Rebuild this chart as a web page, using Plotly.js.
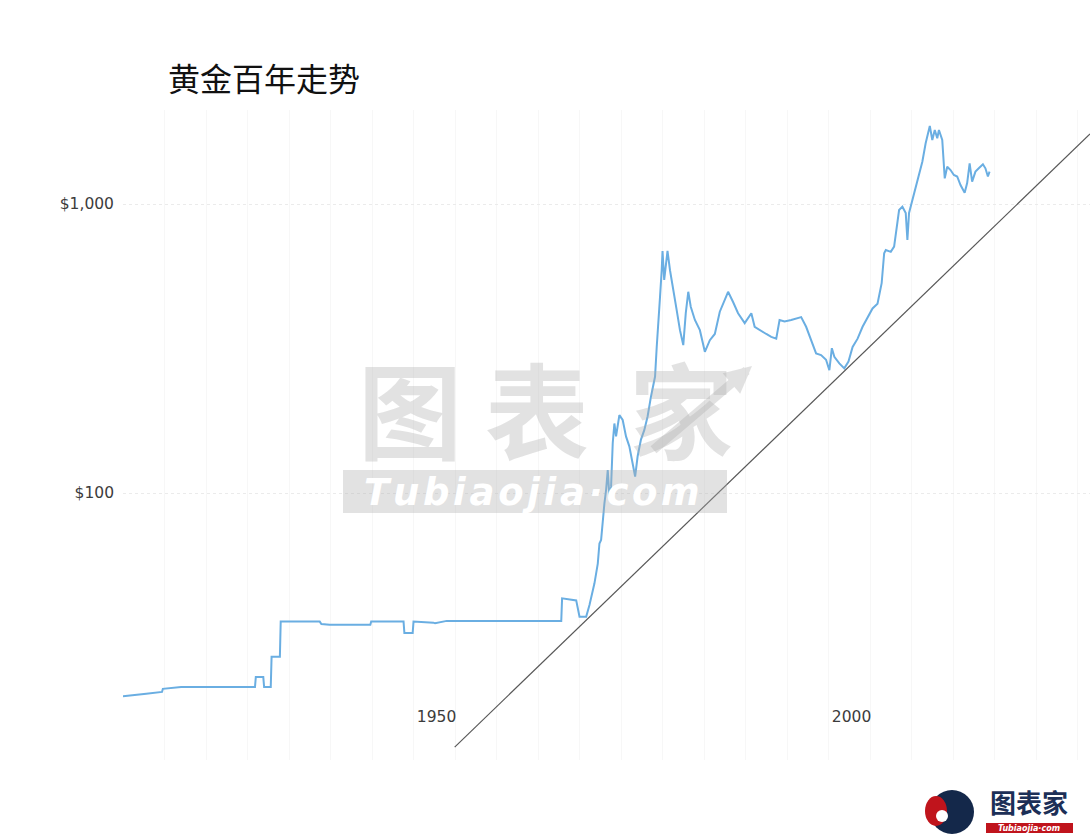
<!DOCTYPE html>
<html>
<head>
<meta charset="utf-8">
<script src="https://cdn.plot.ly/plotly-3.0.1.min.js"></script>
<style>html,body{margin:0;padding:0;background:#fff;}#chart{width:1090px;height:835px;}</style>
</head>
<body>
<div id="chart"></div>
<script>
// Gold price (USD/oz, monthly, log scale)
const years = [1915.0,1916.0,1917.8,1919.7,1919.8,1922.0,1930.9,1931.0,1931.9,1932.0,1932.8,1932.9,1933.9,1934.0,1938.7,1938.9,1939.9,1944.8,1944.9,1948.8,1948.9,1949.9,1950.0,1952.4,1952.6,1954.0,1967.8,
  1967.9,1969.6,1970.0,1970.8,1971.2,1971.8,1972.2,1972.4,1972.6,1972.8,1973.0,1973.2,1973.4,1973.6,1973.8,1974.0,1974.2,1974.4,1974.8,1975.2,1975.6,1976.0,1976.4,1976.7,1977.0,1977.4,1977.8,1978.2,1978.6,1979.1,1979.3,1979.5,1979.7,1979.9,
  1980.0,1980.2,1980.4,1980.6,1980.9,1981.3,1981.7,1982.1,1982.5,1982.8,1983.1,1983.4,1983.9,1984.5,1985.1,1985.7,1986.3,1986.9,1987.5,1987.9,1988.5,1989.1,1989.9,1990.7,1991.1,1991.7,1992.5,1993.1,1993.7,1994.1,1994.7,1995.5,1996.7,1997.3,1997.9,1998.5,1999.1,1999.7,
  2000.1,2000.4,2000.7,2001.3,2001.9,2002.4,2002.9,2003.5,2004.1,2004.7,2005.3,2005.9,2006.4,2006.7,2006.9,2007.5,2007.9,2008.5,2008.9,2009.3,2009.5,2009.7,2010.1,2010.7,2011.3,2011.7,2012.2,2012.5,2012.8,2013.1,2013.3,2013.7,2013.9,2014.0,2014.3,2014.7,2015.1,2015.5,2015.9,2016.4,2016.7,2017.0,2017.3,2017.7,2018.1,2018.6,2018.9,2019.2,2019.4];
const prices = [19.8,19.9,20.2,20.5,21.0,21.3,21.3,23.1,23.1,21.3,21.3,27.1,27.1,35.9,35.9,35.2,35.0,35.0,35.9,35.9,32.8,32.8,35.9,35.6,35.4,36.1,36.1,
  43.2,42.5,37.3,37.3,41.0,48.7,57.0,66.9,68.8,80.6,92.1,102.4,120,97,105,148.6,174,157,186,179,157,145,127,114,134,153,165,184,215,253,320,407,478,590,
  688,546,625,688,590,510,430,366,325,419,497,441,397,366,308,338,355,424,465,497,458,419,387,419,376,366,355,347,342,397,392,397,406,376,338,304,300,289,
  266,317,296,281,270,285,320,342,376,407,435,452,532,675,693,683,712,953,979,931,751,931,1032,1211,1401,1622,1862,1666,1804,1688,1804,1666,1420,1227,1346,1311,1260,1245,1163,1094,1182,1383,1195,1294,1329,1372,1329,1245,1294];

// Straight support line drawn across the chart
const trendYears = [1954.96, 2031.5];
const trendPrices = [13.2, 1747];

// Axis labels
const xTickVals = [1950, 2000];
const xTickText = ['1950', '2000'];
const yTickVals = [100, 1000];
const yTickText = ['$100', '$1,000'];

const titleText = '黄金百年走势';
const wmChars = ['图', '表', '家'];
const wmSite = 'Tubiaojia·com';
const logoText = '图表家';

// helpers: pixel -> paper
const L = 123, R = 1090, T = 110, B = 760;
const px = x => (x - L) / (R - L);
const py = y => (B - y) / (B - T);

const wmColor = 'rgba(175,175,175,0.36)';

const traces = [
  {x: years, y: prices, type: 'scatter', mode: 'lines',
   line: {color: '#6aaee2', width: 2}, hoverinfo: 'skip', showlegend: false},
  {x: trendYears, y: trendPrices, type: 'scatter', mode: 'lines',
   line: {color: '#585858', width: 1.2}, hoverinfo: 'skip', showlegend: false}
];

const wmX = [410, 537, 681];
const annotations = wmChars.map((c, i) => ({
  text: c, xref: 'paper', yref: 'paper', x: px(wmX[i]), y: py(406),
  xanchor: 'center', yanchor: 'middle', showarrow: false,
  font: {family: 'Noto Sans CJK SC', size: 104, color: wmColor, weight: 'bold'}
}));
annotations.push(
  {text: '', xref: 'paper', yref: 'paper', axref: 'pixel', ayref: 'pixel',
   x: px(752), y: py(366), ax: -100, ay: 85, showarrow: true,
   arrowhead: 2, arrowsize: 0.6, arrowwidth: 9, arrowcolor: wmColor},
  {text: wmSite.split('').join('\u200A'), xref: 'paper', yref: 'paper', x: px(532), y: py(492),
   xanchor: 'center', yanchor: 'middle', showarrow: false,
   font: {family: 'DejaVu Sans', size: 37, color: '#ffffff', weight: 'bold', style: 'italic'}},
  {text: logoText, xref: 'paper', yref: 'paper', x: px(1029), y: py(802),
   xanchor: 'center', yanchor: 'middle', showarrow: false,
   font: {family: 'Noto Sans CJK SC', size: 26, color: '#1c2f57', weight: 'bold'}},
  {text: wmSite, xref: 'paper', yref: 'paper', x: px(1029), y: py(828),
   xanchor: 'center', yanchor: 'middle', showarrow: false,
   font: {family: 'DejaVu Sans', size: 8, color: '#ffffff', weight: 'bold', style: 'italic'}}
);

const layout = {
  width: 1090, height: 835,
  margin: {l: L, r: 1090 - R, t: T, b: 835 - B, pad: 0},
  paper_bgcolor: '#fff', plot_bgcolor: '#fff',
  showlegend: false,
  title: {text: titleText, xref: 'container', yref: 'container',
    x: 168/1090, xanchor: 'left', y: 1 - 80/835, yanchor: 'middle',
    font: {family: 'Noto Sans CJK SC', size: 32, color: '#111'}},
  xaxis: {range: [1915, 2031.5], anchor: 'free', position: py(705),
    tickvals: xTickVals, ticktext: xTickText, ticklabelshift: 23,
    showline: false, zeroline: false, ticks: '',
    showgrid: false,
    minor: {dtick: 5, showgrid: true, gridcolor: '#f7f7f7', gridwidth: 1},
    tickfont: {family: 'DejaVu Sans', size: 15.5, color: '#3c3c3c'}},
  yaxis: {type: 'log', range: [1.0761, 3.3253],
    tickvals: yTickVals, ticktext: yTickText,
    showline: false, zeroline: false, ticks: '', ticklabelstandoff: 8,
    showgrid: true, gridcolor: '#ebebeb', griddash: 'dot', gridwidth: 1,
    tickfont: {family: 'DejaVu Sans', size: 15.5, color: '#3c3c3c'}},
  shapes: [
    // watermark bar
    {type: 'rect', xref: 'paper', yref: 'paper', layer: 'above',
     x0: px(343), x1: px(727), y0: py(513), y1: py(470),
     fillcolor: wmColor, line: {width: 0}},
    // bottom-right logo head
    {type: 'circle', xref: 'paper', yref: 'paper', layer: 'above',
     x0: px(930), x1: px(974), y0: py(834), y1: py(790),
     fillcolor: '#14284a', line: {width: 0}},
    {type: 'circle', xref: 'paper', yref: 'paper', layer: 'above',
     x0: px(925), x1: px(947), y0: py(826), y1: py(796),
     fillcolor: '#c0141c', line: {width: 0}},
    {type: 'circle', xref: 'paper', yref: 'paper', layer: 'above',
     x0: px(936), x1: px(948), y0: py(822), y1: py(810),
     fillcolor: '#ffffff', line: {width: 0}},
    // logo red box
    {type: 'rect', xref: 'paper', yref: 'paper', layer: 'above',
     x0: px(986), x1: px(1073), y0: py(833), y1: py(823),
     fillcolor: '#c0141c', line: {width: 0}}
  ],
  annotations: annotations
};

Plotly.newPlot('chart', traces, layout, {staticPlot: true, displayModeBar: false});
</script>
</body>
</html>
